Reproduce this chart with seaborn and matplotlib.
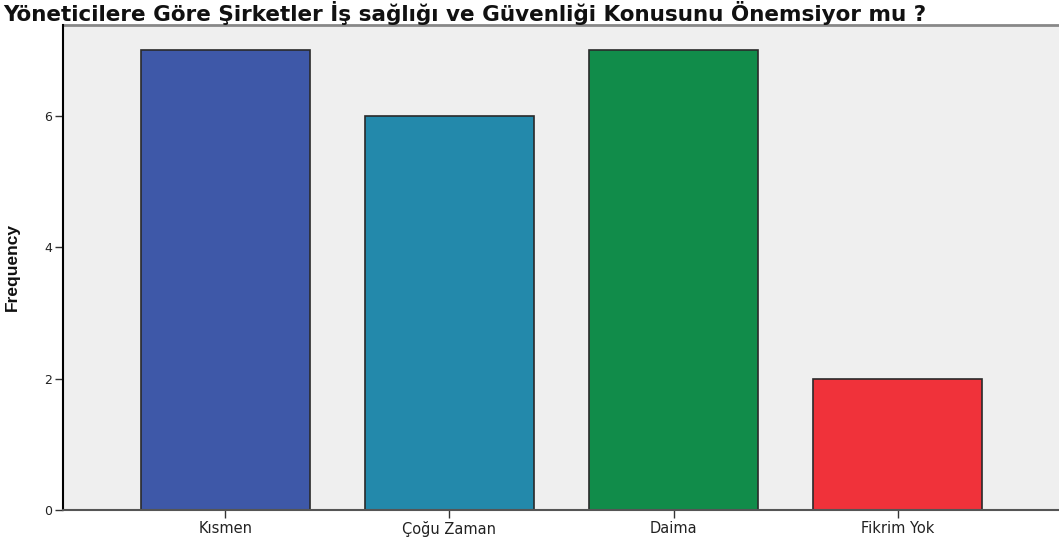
import matplotlib
matplotlib.use("Agg")
import matplotlib.pyplot as plt
import seaborn as sns
import pandas as pd

# Survey responses and their counts
categories = ["Kısmen", "Çoğu Zaman", "Daima", "Fikrim Yok"]
frequencies = [7, 6, 7, 2]
bar_colors = ["#3E58A8", "#2389AB", "#118C4A", "#F0323A"]
title = "Yöneticilere Göre Şirketler İş sağlığı ve Güvenliği Konusunu Önemsiyor mu ?"

sns.set_theme(style="white")
plt.rcParams["font.family"] = ["DejaVu Sans"]

df = pd.DataFrame({"category": categories, "frequency": frequencies})

fig = plt.figure(figsize=(10.59, 5.40), dpi=100)
ax = fig.add_axes([0.0595, 0.0556, 0.9405, 0.8981])
ax.set_facecolor("#EFEFEF")

sns.barplot(data=df, x="category", y="frequency", hue="category",
            palette=bar_colors, order=categories, hue_order=categories,
            saturation=1, width=0.753, edgecolor="#2A2A2A", linewidth=1.2,
            legend=False, ax=ax)

ax.set_xlim(-0.724, 3.72)
ax.set_ylim(0, 7.38)
ax.set_yticks([0, 2, 4, 6])
ax.set_xlabel("")
ax.set_ylabel("Frequency", fontsize=12.5, fontweight="bold", color="#111111",
              family=["Liberation Sans Narrow", "Liberation Sans", "DejaVu Sans"])
ax.yaxis.set_label_coords(-0.043, 0.5)

for side in ["top", "right"]:
    ax.spines[side].set_visible(False)
ax.spines["left"].set_color("#000000")
ax.spines["left"].set_linewidth(1.5)
ax.spines["bottom"].set_color("#555555")
ax.spines["bottom"].set_linewidth(1.5)
ax.axhline(7.38, color="#888888", linewidth=2, clip_on=False)

ax.tick_params(axis="y", which="major", length=6, width=1, color="#333333",
               labelsize=9, labelcolor="#222222", pad=2, left=True)
ax.tick_params(axis="x", which="major", length=6, width=1, color="#333333",
               labelsize=10.5, labelcolor="#222222", pad=2, bottom=True)

fig.text(0.003, 1 - 21 / 540, title, ha="left", va="baseline", fontsize=15.5,
         fontweight="bold", color="#111111")

fig.savefig("out.png", dpi=100, facecolor="white")
